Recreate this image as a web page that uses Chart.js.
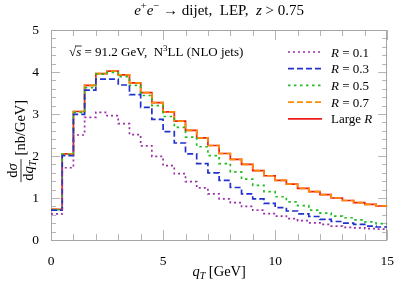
<!DOCTYPE html>
<html><head><meta charset="utf-8">
<script src="https://cdn.jsdelivr.net/npm/chart.js@4/dist/chart.umd.min.js"></script>
<style>html,body{margin:0;padding:0;background:#fff;}</style>
</head><body>
<canvas id="c" width="399" height="286"></canvas>
<script>
// ---- data ----
const binLowerEdges = [0,0.5,1,1.5,2,2.5,3,3.5,4,4.5,5,5.5,6,6.5,7,7.5,8,8.5,9,9.5,10,10.5,11,11.5,12,12.5,13,13.5,14,14.5];
const binUpperEnd = 15;
const xTickLabels = ['0','5','10','15'];
const yTickLabels = ['0','1','2','3','4','5'];
const seriesNames = ['R = 0.1','R = 0.3','R = 0.5','R = 0.7','Large R'];
const valsR01 = [0.62,1.72,2.50,2.92,3.04,2.96,2.77,2.51,2.24,1.99,1.77,1.58,1.39,1.24,1.10,0.98,0.89,0.80,0.71,0.63,0.57,0.51,0.46,0.41,0.37,0.33,0.30,0.29,0.27,0.26];
const valsR03 = [0.71,2.01,2.99,3.57,3.83,3.83,3.69,3.46,3.16,2.87,2.58,2.31,2.05,1.82,1.60,1.42,1.25,1.10,0.98,0.87,0.77,0.69,0.62,0.56,0.49,0.44,0.40,0.37,0.33,0.31];
const valsR05 = [0.72,2.04,3.04,3.63,3.95,3.99,3.89,3.68,3.44,3.20,2.94,2.68,2.45,2.22,2.01,1.82,1.62,1.45,1.30,1.15,1.03,0.91,0.82,0.71,0.64,0.57,0.53,0.48,0.43,0.39];
const valsR07 = [0.73,2.05,3.06,3.68,3.96,4.02,3.93,3.74,3.51,3.27,3.05,2.83,2.61,2.43,2.25,2.06,1.92,1.80,1.65,1.53,1.42,1.33,1.23,1.15,1.08,1.00,0.94,0.89,0.85,0.81];
const valsLarge = [0.73,2.05,3.06,3.68,3.96,4.02,3.93,3.74,3.51,3.27,3.05,2.83,2.61,2.43,2.25,2.06,1.92,1.80,1.65,1.53,1.42,1.33,1.23,1.15,1.08,1.00,0.94,0.89,0.85,0.81];

// ---- styles ----
const FONT = '"Liberation Serif","Times New Roman",serif';
const styles = [
  {color:'#9a2fa8', dash:[2,3], width:1.7},
  {color:'#2233cc', dash:[6,3], width:1.7},
  {color:'#22bb22', dash:[2.5,3.5], width:1.7},
  {color:'#ff8c00', dash:[6,3], width:1.7},
  {color:'#ee1c1c', dash:[], width:1.7}
];
const allVals = [valsR01, valsR03, valsR05, valsR07, valsLarge];

function histPoints(vals){
  const pts = binLowerEdges.map((x,i)=>({x:x, y:vals[i]}));
  pts.push({x:binUpperEnd, y:vals[vals.length-1]});
  return pts;
}

const datasets = allVals.map((v,i)=>({
  label: seriesNames[i],
  data: histPoints(v),
  borderColor: styles[i].color,
  borderDash: styles[i].dash,
  borderWidth: styles[i].width,
  pointRadius: 0,
  stepped: true,
  fill: false,
  borderCapStyle: 'butt'
}));

function font(size, style){ return (style||'') + ' ' + size + 'px ' + FONT; }
function segWidth(ctx, segs){
  let w = 0;
  for (const s of segs){ ctx.font = s.font; w += ctx.measureText(s.t).width; }
  return w;
}
function drawSegs(ctx, segs, x, y){
  let cx = x;
  for (const s of segs){
    ctx.font = s.font;
    ctx.fillText(s.t, cx, y + (s.dy||0));
    cx += ctx.measureText(s.t).width;
  }
  return cx;
}

const framePlugin = {
  id: 'frameTicks',
  beforeDatasetsDraw(chart){
    const {ctx, chartArea:a, scales} = chart;
    const xs = scales.x, ys = scales.y;
    ctx.save();
    ctx.strokeStyle = '#b5b5b5';
    ctx.lineWidth = 1;
    ctx.beginPath();
    for (let k = 0; k <= 15; k++){
      const px = Math.round(xs.getPixelForValue(k)) + 0.5;
      const L = (k % 5 === 0) ? 10 : 6;
      ctx.moveTo(px, a.bottom); ctx.lineTo(px, a.bottom - L);
      ctx.moveTo(px, a.top); ctx.lineTo(px, a.top + L);
    }
    for (let k = 0; k <= 25; k++){
      const py = Math.round(ys.getPixelForValue(k / 5)) + 0.5;
      const L = (k % 5 === 0) ? 9 : 5;
      ctx.moveTo(a.left, py); ctx.lineTo(a.left + L, py);
      ctx.moveTo(a.right, py); ctx.lineTo(a.right - L, py);
    }
    ctx.stroke();
    ctx.strokeStyle = '#a6a6a6';
    ctx.strokeRect(Math.round(a.left) + 0.5, Math.round(a.top) + 0.5, Math.round(a.right - a.left) - 1, Math.round(a.bottom - a.top));
    ctx.restore();
  },
  afterDraw(chart){
    const {ctx, chartArea:a} = chart;
    ctx.save();
    ctx.fillStyle = '#000';
    ctx.textBaseline = 'alphabetic';
    // title
    const tSize = 15;
    const title = [
      {t:'e', font:font(tSize,'italic')},
      {t:'+', font:font(10.5), dy:-6},
      {t:'e', font:font(tSize,'italic')},
      {t:'\u2212', font:font(10.5), dy:-6},
      {t:' \u2192 dijet,  LEP,  ', font:font(tSize)},
      {t:'z', font:font(tSize,'italic')},
      {t:' > 0.75', font:font(tSize)}
    ];
    const tw = segWidth(ctx, title);
    drawSegs(ctx, title, (a.left + a.right)/2 - tw/2, 15);

    // annotation
    const aSize = 13;
    const ann = [
      {t:'\u221A', font:font(aSize)},
      {t:'s', font:font(aSize,'italic')},
      {t:' = 91.2 GeV,  N', font:font(aSize)},
      {t:'3', font:font(9), dy:-5},
      {t:'LL (NLO jets)', font:font(aSize)}
    ];
    drawSegs(ctx, ann, 69, 56);
    ctx.font = font(aSize);
    const sqrtW = ctx.measureText('\u221A').width;
    ctx.font = font(aSize,'italic');
    const sW = ctx.measureText('s').width;
    ctx.strokeStyle = '#000'; ctx.lineWidth = 0.8;
    ctx.beginPath(); ctx.moveTo(69 + sqrtW - 1, 46); ctx.lineTo(69 + sqrtW + sW + 0.5, 46); ctx.stroke();

    // legend
    const lSize = 13;
    const rowY0 = 52, rowDY = 16.7;
    for (let i = 0; i < seriesNames.length; i++){
      const y = rowY0 + i * rowDY;
      ctx.save();
      ctx.strokeStyle = styles[i].color;
      ctx.lineWidth = styles[i].width;
      ctx.setLineDash(styles[i].dash);
      ctx.beginPath(); ctx.moveTo(288, y); ctx.lineTo(322, y); ctx.stroke();
      ctx.restore();
      let segs;
      if (i < 4) {
        segs = [{t:'R', font:font(lSize,'italic')}, {t:seriesNames[i].slice(1), font:font(lSize)}];
      } else {
        segs = [{t:'Large ', font:font(lSize)}, {t:'R', font:font(lSize,'italic')}];
      }
      drawSegs(ctx, segs, 331, y + 4.5);
    }

    // x axis title
    const xs = 14.5;
    const xt = [
      {t:'q', font:font(xs,'italic')},
      {t:'T', font:font(10,'italic'), dy:3},
      {t:' [GeV]', font:font(xs)}
    ];
    const xw = segWidth(ctx, xt);
    drawSegs(ctx, xt, (a.left + a.right)/2 - xw/2, 276);

    // y axis title (rotated fraction)
    ctx.save();
    ctx.translate(21, 141);
    ctx.rotate(-Math.PI/2);
    const ys2 = 14.5;
    const num = [{t:'d', font:font(ys2)}, {t:'\u03C3', font:font(ys2,'italic')}];
    const den = [{t:'d', font:font(ys2)}, {t:'q', font:font(ys2,'italic')}, {t:'T', font:font(10,'italic'), dy:3}];
    const nw = segWidth(ctx, num), dw = segWidth(ctx, den);
    const fw = Math.max(nw, dw) + 3;
    ctx.font = font(ys2);
    const unit = ' [nb/GeV]';
    const uw = ctx.measureText(unit).width;
    const total = fw + uw;
    const x0 = -total/2;
    drawSegs(ctx, num, x0 + (fw - nw)/2, -4);
    drawSegs(ctx, den, x0 + (fw - dw)/2, 11.5);
    ctx.strokeStyle = '#000'; ctx.lineWidth = 0.8;
    ctx.beginPath(); ctx.moveTo(x0, 0); ctx.lineTo(x0 + fw, 0); ctx.stroke();
    ctx.font = font(ys2);
    ctx.textBaseline = 'middle';
    ctx.fillText(unit, x0 + fw, 0);
    ctx.restore();

    ctx.restore();
  }
};

new Chart(document.getElementById('c'), {
  type: 'line',
  data: { datasets: datasets },
  options: {
    responsive: false,
    animation: false,
    devicePixelRatio: 1,
    layout: { padding: { top: 30, right: 8, left: 0, bottom: 0 } },
    plugins: { legend: { display: false }, title: { display: false }, tooltip: { enabled: false } },
    scales: {
      x: {
        type: 'linear', min: 0, max: 15,
        grid: { display: false },
        border: { display: false },
        afterFit(s){ s.height = 46; },
        afterBuildTicks(s){ s.ticks = xTickLabels.map(v => ({value: Number(v)})); },
        ticks: { color: '#000', font: { family: FONT, size: 13.5 }, padding: 5, maxRotation: 0,
                 callback: (v) => xTickLabels.find(t => Number(t) === v) }
      },
      y: {
        type: 'linear', min: 0, max: 5,
        grid: { display: false },
        border: { display: false },
        afterFit(s){ s.width = 51; },
        afterBuildTicks(s){ s.ticks = yTickLabels.map(v => ({value: Number(v)})); },
        ticks: { color: '#000', font: { family: FONT, size: 13.5 }, padding: 4,
                 callback: (v) => yTickLabels.find(t => Number(t) === v) }
      }
    }
  },
  plugins: [framePlugin]
});
</script>
</body></html>
